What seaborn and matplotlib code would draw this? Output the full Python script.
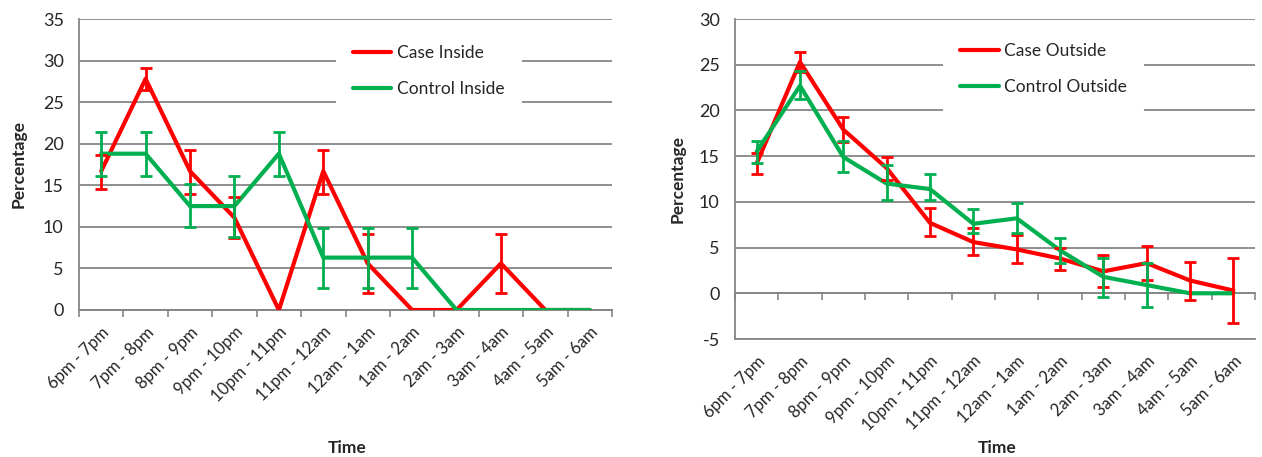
import numpy as np
import pandas as pd
import matplotlib
matplotlib.use('Agg')
import matplotlib.pyplot as plt
import seaborn as sns

# Hour bands on the x axis
time_labels = ['6pm - 7pm', '7pm - 8pm', '8pm - 9pm', '9pm - 10pm', '10pm - 11pm', '11pm - 12am',
               '12am - 1am', '1am - 2am', '2am - 3am', '3am - 4am', '4am - 5am', '5am - 6am']

# Inside (percentage, lower and upper ends of error bar)
case_in = [16.7, 27.8, 16.7, 11.1, 0, 16.7, 5.6, 0, 0, 5.6, 0, 0]
case_in_lo = [14.6, 26.5, 14.0, 8.7, 0, 14.0, 2.0, 0, 0, 2.0, 0, 0]
case_in_hi = [18.7, 29.1, 19.2, 13.6, 0, 19.2, 9.2, 0, 0, 9.2, 0, 0]
ctrl_in = [18.8, 18.8, 12.5, 12.5, 18.8, 6.3, 6.3, 6.3, 0, 0, 0, 0]
ctrl_in_lo = [16.1, 16.1, 10.0, 8.8, 16.1, 2.7, 2.7, 2.7, 0, 0, 0, 0]
ctrl_in_hi = [21.4, 21.4, 15.1, 16.1, 21.4, 9.9, 9.9, 9.9, 0, 0, 0, 0]

# Outside
case_out = [14.2, 25.3, 17.9, 13.7, 7.7, 5.6, 4.8, 3.8, 2.4, 3.3, 1.4, 0.3]
case_out_lo = [13.1, 24.2, 16.6, 12.4, 6.3, 4.2, 3.3, 2.6, 0.7, 1.4, -0.7, -3.3]
case_out_hi = [15.3, 26.4, 19.3, 14.9, 9.3, 7.1, 6.4, 5.0, 4.2, 5.2, 3.4, 3.9]
ctrl_out = [15.5, 22.7, 14.9, 12.0, 11.4, 7.6, 8.2, 4.7, 1.8, 0.9, 0, 0]
ctrl_out_lo = [14.3, 21.2, 13.3, 10.2, 10.2, 6.6, 6.6, 3.3, -0.4, -1.5, 0, 0]
ctrl_out_hi = [16.7, 24.3, 16.7, 14.0, 13.0, 9.2, 9.9, 6.1, 3.9, 3.3, 0, 0]

RED = '#ff0000'
GREEN = '#00b050'
GRID = '#868686'

sns.set_style('white')
plt.rcParams['font.family'] = ['Lato', 'DejaVu Sans']
plt.rcParams['axes.unicode_minus'] = False

fig = plt.figure(figsize=(12.62, 4.57), dpi=100)
W, H = 1262, 457
ax1 = fig.add_axes([79 / W, 1 - 310 / H, 533 / W, 291 / H])
ax2 = fig.add_axes([735 / W, 1 - 339 / H, 520 / W, 320 / H])


def draw_panel(ax, names, values, lows, highs, ylim, leg_anchor):
    pos = np.arange(len(time_labels))
    df = pd.concat([pd.DataFrame({'pos': pos, 'value': v, 'series': n})
                    for n, v in zip(names, values)])
    palette = dict(zip(names, [RED, GREEN]))
    sns.lineplot(data=df, x='pos', y='value', hue='series', hue_order=names,
                 palette=palette, linewidth=3, ax=ax, zorder=3)

    # error bars, skipped where the band is empty
    for v, lo, hi, c in zip(values, lows, highs, [RED, GREEN]):
        v, lo, hi = np.array(v), np.array(lo), np.array(hi)
        m = hi > lo
        ax.errorbar(pos[m], v[m], yerr=[v[m] - lo[m], hi[m] - v[m]], fmt='none',
                    ecolor=c, elinewidth=2, capsize=4, capthick=2, zorder=4)

    ax.set_xlim(-0.5, len(time_labels) - 0.5)
    ax.set_ylim(*ylim)
    ax.set_yticks(np.arange(ylim[0], ylim[1] + 1, 5))
    ax.set_xticks(pos)
    ax.set_xticklabels(time_labels, rotation=45, ha='right', rotation_mode='anchor')
    ax.tick_params(axis='x', length=0, pad=10, labelsize=12)
    ax.tick_params(axis='y', length=5, width=1.2, color=GRID, direction='out', pad=6, labelsize=13)
    ax.grid(axis='y', color=GRID, linewidth=1.3)
    ax.set_axisbelow(True)
    for s in ['top', 'right']:
        ax.spines[s].set_visible(False)
    for s in ['left', 'bottom']:
        ax.spines[s].set_color(GRID)
        ax.spines[s].set_linewidth(1.3)

    # category boundary ticks on the zero line
    zero = (0 - ylim[0]) / (ylim[1] - ylim[0])
    sec = ax.secondary_xaxis(zero)
    sec.set_xticks(np.arange(-0.5, len(time_labels), 1))
    sec.tick_params(length=5, width=1.2, color=GRID, direction='out', labelbottom=False)
    sec.spines['bottom'].set_color(GRID)
    sec.spines['bottom'].set_linewidth(1.3)

    ax.set_xlabel('Time', fontweight='bold', fontsize=12.5)
    ax.set_ylabel('Percentage', fontweight='bold', fontsize=12.5)

    leg = ax.legend(loc='upper left', bbox_to_anchor=leg_anchor, borderaxespad=0,
                    frameon=True, facecolor='white', edgecolor='white', framealpha=1,
                    fontsize=12.5, handlelength=2.2, handletextpad=0.3,
                    labelspacing=1.15, borderpad=1.0)
    leg.get_frame().set_linewidth(0)
    leg.set_zorder(5)


draw_panel(ax1, ['Case Inside', 'Control Inside'], [case_in, ctrl_in],
           [case_in_lo, ctrl_in_lo], [case_in_hi, ctrl_in_hi], (0, 35), (0.482, 0.969))
ax1.yaxis.set_label_coords(-0.099, 0.5)
ax1.xaxis.set_label_coords(0.503, -0.447)

draw_panel(ax2, ['Case Outside', 'Control Outside'], [case_out, ctrl_out],
           [case_out_lo, ctrl_out_lo], [case_out_hi, ctrl_out_hi], (-5, 30), (0.40, 0.978))
ax2.yaxis.set_label_coords(-0.095, 0.5)
ax2.xaxis.set_label_coords(0.504, -0.316)

fig.savefig('out.png', dpi=100)
